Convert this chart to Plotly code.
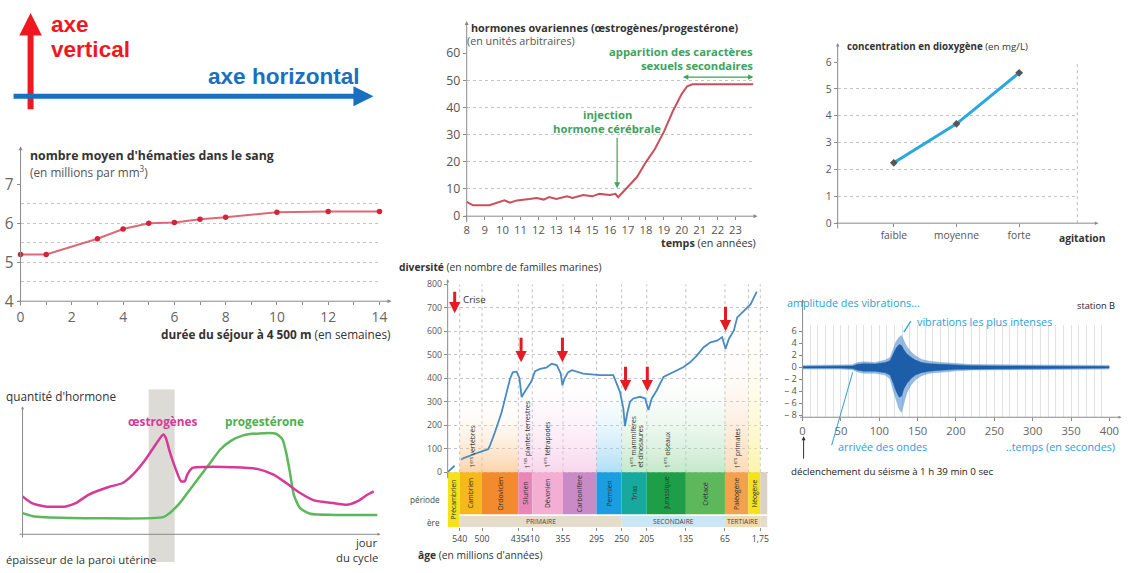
import plotly.graph_objects as go

W, H = 1128, 573
# the photographed page is slightly rescaled; positions below are given in the
# reference picture's pixels and mapped to figure pixels here.
SX, BX = 0.985, 5.5
SY, BY = 0.963, 11.9
FS = 1 / 0.975


def wx(x):
    return (x - BX) / SX


def wy(y):
    return (y - BY) / SY


def px(x):
    return wx(x) / W


def py(y):
    return 1 - wy(y) / H


def dom_x(a, b):
    return [max(0, px(a)), min(1, px(b))]


def dom_y(top, bottom):
    return [max(0, py(bottom)), min(1, py(top))]


def fs(s):
    return round(s * FS, 2)


FONT = "Open Sans"
DARK = "#333333"
GREY = "#8a8a8a"
GRID = "#c4c4c4"

# ---------------- data ----------------
# hématies
hem_weeks = [0, 1, 3, 4, 5, 6, 7, 8, 10, 12, 14]
hem_values = [5.2, 5.2, 5.6, 5.85, 6.0, 6.02, 6.1, 6.15, 6.28, 6.3, 6.3]
hem_yticks = [4, 5, 6, 7]

# hormones ovariennes
ova_years = [8.0, 8.35, 9.27, 9.64, 10.1, 10.4, 10.8, 11.5, 11.9, 12.3, 12.6, 13.0, 13.6,
             13.9, 14.5, 15.0, 15.4, 16.0, 16.3, 16.45, 17.0, 17.5, 18.0, 18.5, 19.0,
             19.5, 20.0, 20.3, 20.6, 21.0, 22.0, 23.0, 24.0]
ova_values = [5.3, 4.0, 4.0, 4.9, 5.8, 5.0, 5.8, 6.3, 6.7, 6.1, 7.0, 6.3, 7.3,
              6.7, 7.8, 7.3, 8.2, 7.8, 8.2, 7.0, 10.7, 14.4, 19.9, 24.7, 31.0,
              38.6, 45.0, 47.8, 48.5, 48.5, 48.5, 48.5, 48.5]
ova_xticks = list(range(8, 24))

# dioxygène
o2_levels = ["faible", "moyenne", "forte"]
o2_pos = [1, 2, 3]
o2_values = [2.25, 3.7, 5.6]

# diversité des familles marines
div_dash_ages = [561, 548, 535]
div_dash_values = [2, 30, 58]
div_ages = [535, 531, 510, 498, 489, 486, 477, 465, 456, 450, 445, 438, 433, 429, 424,
            412, 405, 396, 385, 375, 366, 359, 356, 352, 346, 339, 319, 289, 265, 253,
            247, 244, 240, 235, 229, 217, 208, 202, 196, 187, 175, 163, 151, 139, 127,
            115, 103, 91, 79, 70, 64, 58, 49, 43, 31, 19, 8]
div_values = [58, 62, 81, 91, 98, 112, 169, 254, 332, 396, 425, 428, 400, 320, 340,
              385, 430, 440, 445, 462, 455, 420, 370, 400, 425, 434, 420, 413, 413, 342,
              272, 196, 250, 300, 314, 321, 314, 265, 314, 349, 406, 420, 434, 448, 469,
              497, 532, 553, 560, 575, 525, 567, 603, 659, 687, 715, 768]
crisis_ages = [430, 356, 243, 204, 64]
crisis_tips = [468, 468, 345, 345, 600]
age_ticks = [540, 500, 435, 410, 355, 295, 250, 205, 135, 65, 1.75]
age_labels = ["540", "500", "435", "410", "355", "295", "250", "205", "135", "65", "1,75"]
div_yticks = [0, 100, 200, 300, 400, 500, 600, 700, 800]

period_names = ["Précambrien", "Cambrien", "Ordovicien", "Silurien", "Dévonien",
                "Carbonifère", "Permien", "Trias", "Jurassique", "Crétacé",
                "Paléogène", "Néogène", ""]
period_start = [561.5, 540, 500, 435, 410, 355, 295, 250, 205, 135, 65, 23, 1.75]
period_end = [540, 500, 435, 410, 355, 295, 250, 205, 135, 65, 23, 1.75, -11.2]
period_colors = ["#f3e21c", "#f6b81c", "#f28a2e", "#ea85b8", "#f3aed2", "#c98bc5",
                 "#1a9ee0", "#17a89e", "#1f9e48", "#5db85c", "#f3a14c", "#f4e21e", "#d9d1c3"]

era_names = ["PRIMAIRE", "SECONDAIRE", "TERTIAIRE", "Q"]
era_start = [540, 250, 65, 1.75]
era_end = [250, 65, 1.75, -11.2]
era_colors = ["#e6dccb", "#cbe6f4", "#eedcae", "#e6dccb"]

pastel_start = [540, 435, 295, 250, 65, 23]
pastel_end = [435, 295, 250, 65, 23, 1.75]
pastel_top = [330, 470, 420, 470, 620, 720]
pastel_colors = ["rgba(247,175,100,0.55)", "rgba(240,175,220,0.5)", "rgba(110,195,240,0.55)",
                 "rgba(140,210,150,0.5)", "rgba(246,190,130,0.55)", "rgba(250,236,120,0.6)"]

first_labels = ["1<sup>ers</sup> vertébrés", "1<sup>res</sup> plantes terrestres",
                "1<sup>ers</sup> tétrapodes", "1<sup>ers</sup> mammifères",
                "et dinosaures", "1<sup>ers</sup> oiseaux", "1<sup>ers</sup> primates"]
first_ages = [517, 418, 384, 230, 216, 168, 43]

# sismogramme (enveloppe)
seis_t = [0, 50, 65, 72, 80, 95, 108, 114, 118, 122, 126, 129, 132, 136, 141, 147, 155,
          165, 180, 200, 220, 260, 320, 400]
seis_upper = [0.3, 0.3, 0.4, 0.8, 0.9, 0.8, 1.2, 1.6, 3.0, 4.3, 5.0, 5.3, 4.4, 3.4, 2.6,
              1.9, 1.3, 1.0, 0.8, 0.6, 0.45, 0.4, 0.35, 0.3]
seis_lower = [-0.3, -0.3, -0.4, -0.8, -1.0, -1.0, -1.3, -1.9, -3.8, -5.5, -7.0, -7.5, -6.0,
              -4.2, -3.0, -2.1, -1.4, -1.0, -0.8, -0.6, -0.45, -0.4, -0.35, -0.3]
seis_core_upper = [0.12, 0.12, 0.2, 0.5, 0.6, 0.55, 0.8, 1.1, 2.2, 3.2, 3.8, 3.6, 2.9, 2.2,
                   1.7, 1.2, 0.8, 0.6, 0.5, 0.35, 0.25, 0.2, 0.18, 0.12]
seis_core_lower = [-0.12, -0.12, -0.2, -0.5, -0.65, -0.65, -0.9, -1.3, -2.6, -4.0, -5.0,
                   -4.8, -3.6, -2.7, -1.9, -1.3, -0.9, -0.65, -0.5, -0.35, -0.25, -0.2,
                   -0.18, -0.12]
seis_xticks = [0, 50, 100, 150, 200, 250, 300, 350, 400]
seis_yticks = [6, 4, 2, 0, -2, -4, -6, -8]
seis_ylabels = ["6", "4", "2", "0", "– 2", "– 4", "– 6", "– 8"]

# cycle menstruel
oe_days = [0, 0.74, 1.8, 3.4, 4.2, 5.2, 6.8, 7.9, 8.7, 9.7, 10.5, 11.1, 11.3, 11.6, 12.1,
           12.5, 12.8, 13.0, 13.4, 14.5, 16.6, 18.5, 19.8, 20.8, 21.9, 23.0, 24.6, 25.6,
           26.4, 27.2, 27.7]
oe_values = [30.3, 24.9, 22.3, 22.3, 24.9, 31.6, 37.8, 41.0, 47.7, 59.8, 71.8, 79.9, 77.2,
             66.5, 51.7, 42.4, 42.4, 47.7, 53.1, 53.9, 53.6, 52.3, 47.7, 41.0, 33.0, 27.1,
             24.9, 23.6, 26.3, 31.6, 34.3]
pg_days = [0, 0.74, 1.8, 11.1, 11.6, 12.4, 13.2, 14.0, 14.8, 15.6, 16.4, 17.4, 18.7, 20.0,
           20.5, 20.8, 21.1, 21.4, 21.9, 22.7, 24.6, 28.0]
pg_values = [16.9, 14.7, 13.7, 13.7, 16.9, 24.9, 35.7, 46.4, 57.1, 67.8, 74.5, 79.1, 80.7,
             80.4, 75.9, 65.1, 49.1, 31.6, 20.9, 16.4, 15.5, 15.5]
band_days = [9.95, 12.0]

# ---------------- helpers ----------------
ann = []
shapes = []


def text(x, y, s, size=11, color=DARK, xanchor="left", yanchor="middle", family=FONT,
         angle=0, xref="paper", yref="paper"):
    if xref == "paper":
        x = px(x)
    if yref == "paper":
        y = py(y)
    ann.append(dict(x=x, y=y, xref=xref, yref=yref, text=s, showarrow=False,
                    xanchor=xanchor, yanchor=yanchor, textangle=angle, borderpad=0,
                    font=dict(size=fs(size), color=color, family=family)))


def arrow(x0, y0, x1, y1, color=GREY, width=1.0, head=2, size=1.0):
    ann.append(dict(x=px(x1), y=py(y1), xref="paper", yref="paper",
                    ax=(x0 - x1) / SX, ay=(y0 - y1) / SY,
                    axref="pixel", ayref="pixel", showarrow=True, arrowhead=head,
                    arrowsize=size, arrowwidth=width, arrowcolor=color, text="",
                    standoff=0, startstandoff=0))


def line(x0, y0, x1, y1, color=GREY, width=1.0, dash="solid"):
    shapes.append(dict(type="line", xref="paper", yref="paper", x0=px(x0), y0=py(y0),
                       x1=px(x1), y1=py(y1), line=dict(color=color, width=width, dash=dash)))


def tf(size, color="#555"):
    return dict(family=FONT, size=fs(size), color=color)


def axis(dom, rng, anchor, **kw):
    d = dict(domain=dom, range=rng, anchor=anchor, showgrid=False, zeroline=False,
             showline=False, ticks="", fixedrange=True, tickangle=0, tickfont=tf(11))
    d.update(kw)
    return d


fig = go.Figure()

# ---------------- panel 0 : axes diagram ----------------
arrow(32, 108, 32, 14, color="#f01820", width=6, head=2, size=0.75)
arrow(18, 97, 374, 97, color="#1a6fc0", width=5, head=2, size=0.8)
text(51, 25, "<b>axe</b>", size=22, color="#f01820", family="Liberation Sans")
text(51, 50, "<b>vertical</b>", size=22, color="#f01820", family="Liberation Sans")
text(362, 77, "<b>axe horizontal</b>", size=22, color="#1a6fc0", xanchor="right",
     family="Liberation Sans")

# ---------------- panel 1 : hématies ----------------
fig.add_trace(go.Scatter(x=hem_weeks, y=hem_values, mode="lines+markers", xaxis="x", yaxis="y",
                         line=dict(color="#dc6a76", width=2),
                         marker=dict(size=5.5, color="#d0243a"), cliponaxis=False,
                         showlegend=False, hoverinfo="skip"))
arrow(22, 302, 22, 147, color=GREY, width=1, head=2, size=0.8)
arrow(22, 302, 392, 302, color=GREY, width=1, head=2, size=0.8)
text(30, 156, "<b>nombre moyen d'hématies dans le sang</b>", size=12, color=DARK)
text(30, 172, "(en millions par mm<sup>3</sup>)", size=11.5, color="#555")
text(392, 335, "<b>durée du séjour à 4 500 m</b> (en semaines)", size=11.5, color=DARK,
     xanchor="right")

# ---------------- panel 2 : hormones ovariennes ----------------
fig.add_trace(go.Scatter(x=ova_years, y=ova_values, mode="lines", xaxis="x2", yaxis="y2",
                         line=dict(color="#c8505c", width=2), cliponaxis=False,
                         showlegend=False, hoverinfo="skip"))
arrow(467, 217, 467, 22, color=GREY, width=1, head=2, size=0.8)
arrow(467, 217, 757, 217, color=GREY, width=1, head=2, size=0.8)
text(470, 28, "<b>hormones ovariennes (œstrogènes/progestérone)</b>", size=10.5)
text(466, 41, "(en unités arbitraires)", size=10.5, color="#555")
GREEN = "#3da35d"
text(754, 52, "<b>apparition des caractères</b>", size=11, color=GREEN, xanchor="right")
text(754, 66, "<b>sexuels secondaires</b>", size=11, color=GREEN, xanchor="right")
ann.append(dict(x=px(753), y=py(78), xref="paper", yref="paper", ax=(682 - 753) / SX, ay=0,
                axref="pixel", ayref="pixel", showarrow=True, arrowhead=2, arrowside="end+start",
                arrowsize=0.9, arrowwidth=1.2, arrowcolor=GREEN, text=""))
text(607, 115, "<b>injection</b>", size=11, color=GREEN, xanchor="center")
text(607, 129, "<b>hormone cérébrale</b>", size=11, color=GREEN, xanchor="center")
arrow(617, 139, 617, 189, color=GREEN, width=1.2, head=2, size=1)
text(757, 243, "<b>temps</b> (en années)", size=10.5, xanchor="right")

# ---------------- panel 3 : dioxygène ----------------
fig.add_trace(go.Scatter(x=o2_pos, y=o2_values, mode="lines+markers", xaxis="x3", yaxis="y3",
                         line=dict(color="#2aa7de", width=3),
                         marker=dict(size=6, color="#555", symbol="diamond"),
                         cliponaxis=False, showlegend=False, hoverinfo="skip"))
arrow(837, 224, 837, 44, color=GREY, width=1, head=2, size=0.7)
arrow(837, 224, 1097, 224, color=GREY, width=1, head=2, size=0.7)
line(1076, 224, 1076, 62, color="#bbbbbb", width=1, dash="dot")
text(845, 47, "<b>concentration en dioxygène</b> (en mg/L)", size=9.5)
text(1081, 239, "<b>agitation</b>", size=10, xanchor="center")

# ---------------- panel 4 : diversité ----------------
for a, b, top, col in zip(pastel_start, pastel_end, pastel_top, pastel_colors):
    fig.add_trace(go.Scatter(x=[a, a, b, b, a], y=[0, top, top, 0, 0], mode="lines",
                             line=dict(width=0), fill="toself",
                             fillgradient=dict(type="vertical",
                                               colorscale=[[0, col], [1, "rgba(255,255,255,0)"]]),
                             xaxis="x4", yaxis="y4", showlegend=False, hoverinfo="skip"))
for a in period_end[:-1]:
    shapes.append(dict(type="line", xref="x4", yref="y4", x0=a, x1=a, y0=0, y1=800,
                       line=dict(color="#c0c0c0", width=1, dash="dot"), layer="below"))
for i, (a, b, col) in enumerate(zip(period_start, period_end, period_colors)):
    y0 = -234 if i == 0 else -179
    shapes.append(dict(type="rect", xref="x4", yref="y4", x0=a, x1=b, y0=y0, y1=0,
                       fillcolor=col, line=dict(width=0)))
for a, b, col in zip(era_start, era_end, era_colors):
    shapes.append(dict(type="rect", xref="x4", yref="y4", x0=a, x1=b, y0=-234, y1=-186,
                       fillcolor=col, line=dict(width=0)))
for i, (name, a, b) in enumerate(zip(period_names, period_start, period_end)):
    if name:
        text((a + b) / 2, -117 if i == 0 else -90, name, size=6.5, color="#333",
             xanchor="center", angle=-90, xref="x4", yref="y4")
for i, (name, a, b) in enumerate(zip(era_names, era_start, era_end)):
    if name == "Q":
        text(-13, -210, name, size=8, color="#444", xanchor="left", xref="x4", yref="y4")
    else:
        text((a + b) / 2, -210, name, size=6.5, color="#444", xanchor="center",
             xref="x4", yref="y4")
for lab, a in zip(first_labels, first_ages):
    text(a, 14, lab, size=6.5, color="#333", xanchor="center", yanchor="bottom", angle=-90,
         xref="x4", yref="y4")
fig.add_trace(go.Scatter(x=div_dash_ages, y=div_dash_values, mode="lines", xaxis="x4",
                         yaxis="y4", line=dict(color="#4a8ac2", width=1.8, dash="dash"),
                         showlegend=False, hoverinfo="skip"))
fig.add_trace(go.Scatter(x=div_ages, y=div_values, mode="lines", xaxis="x4", yaxis="y4",
                         line=dict(color="#4a8ac2", width=1.8), showlegend=False,
                         hoverinfo="skip"))
for a, tip in zip(crisis_ages, crisis_tips):
    ann.append(dict(x=a, y=tip, xref="x4", yref="y4", ax=0, ay=-25 / SY, axref="pixel",
                    ayref="pixel", showarrow=True, arrowhead=2, arrowsize=0.75, arrowwidth=3,
                    arrowcolor="#e31b23", text="", standoff=0))
arrow(455, 292, 455, 314, color="#e31b23", width=3, head=2, size=0.75)
text(462, 300, "Crise", size=9.5, color="#333")
arrow(448, 473, 448, 280, color=GREY, width=1, head=2, size=0.6)
text(398, 268, "<b>diversité</b> (en nombre de familles marines)", size=10)
text(441, 500, "période", size=8, color="#444", xanchor="right")
text(441, 523, "ère", size=8, color="#444", xanchor="right")
text(417, 556, "<b>âge</b> (en millions d'années)", size=10)

# ---------------- panel 5 : sismogramme ----------------
BLUE_T = "#2aa0d8"
fig.add_trace(go.Scatter(x=seis_t + seis_t[::-1], y=seis_upper + seis_lower[::-1],
                         mode="lines", line=dict(width=0.5, color="#6fa8dc"), fill="toself",
                         fillcolor="rgba(70,130,200,0.55)", xaxis="x5", yaxis="y5",
                         showlegend=False, hoverinfo="skip"))
fig.add_trace(go.Scatter(x=seis_t + seis_t[::-1], y=seis_core_upper + seis_core_lower[::-1],
                         mode="lines", line=dict(width=0.5, color="#1d5ea8"), fill="toself",
                         fillcolor="#1d5ea8", xaxis="x5", yaxis="y5",
                         showlegend=False, hoverinfo="skip"))
arrow(802, 418, 802, 300, color=GREY, width=1, head=2, size=0.6)
arrow(802, 418, 1120, 418, color=GREY, width=1, head=2, size=0.6)
text(785, 303, "amplitude des vibrations...", size=10.5, color=BLUE_T)
text(1115, 306, "station B", size=9, color="#222", xanchor="right")
text(915, 322, "vibrations les plus intenses", size=10.5, color=BLUE_T)
line(910, 322, 903, 333, color=BLUE_T, width=1.3)
line(831, 446, 852, 373, color=BLUE_T, width=1)
text(836, 447, "arrivée des ondes", size=10.5, color=BLUE_T)
text(1115, 447, "..temps (en secondes)", size=10.5, color=BLUE_T, xanchor="right")
arrow(803, 460, 803, 437, color="#333", width=1, head=2, size=0.8)
text(789, 472, "déclenchement du séisme à 1 h 39 min 0 sec", size=9.5, color="#222")

# ---------------- panel 6 : cycle ----------------
shapes.append(dict(type="rect", xref="x6", yref="y6", x0=band_days[0], x1=band_days[1],
                   y0=-22.4, y1=116, fillcolor="#dddbd5", line=dict(width=0), layer="below"))
fig.add_trace(go.Scatter(x=pg_days, y=pg_values, mode="lines", xaxis="x6", yaxis="y6",
                         line=dict(color="#5cb85a", width=2.5, shape="spline", smoothing=0.6),
                         showlegend=False, hoverinfo="skip"))
fig.add_trace(go.Scatter(x=oe_days, y=oe_values, mode="lines", xaxis="x6", yaxis="y6",
                         line=dict(color="#d63a96", width=2.5, shape="spline", smoothing=0.6),
                         showlegend=False, hoverinfo="skip"))
arrow(24, 535, 24, 407, color=GREY, width=1, head=2, size=0.6)
arrow(24, 535, 381, 535, color=GREY, width=1, head=2, size=0.6)
text(6, 397, "quantité d'hormone", size=11.5, color="#333")
text(128, 422, "<b>œstrogènes</b>", size=11.5, color="#d63a96")
text(225, 422, "<b>progestérone</b>", size=11.5, color="#4caf50")
text(380, 543, "jour", size=11, color="#333", xanchor="right")
text(380, 558, "du cycle", size=11, color="#333", xanchor="right")
text(6, 560, "épaisseur de la paroi utérine", size=11, color="#333")

# ---------------- layout ----------------
gridk = dict(showgrid=True, gridcolor=GRID, griddash="dot", gridwidth=1)
fig.update_layout(
    width=W, height=H, margin=dict(l=0, r=0, t=0, b=0), autosize=False,
    paper_bgcolor="white", plot_bgcolor="rgba(0,0,0,0)", showlegend=False,
    font=dict(family=FONT, color=DARK),
    xaxis=axis(dom_x(22, 380), [0, 14], "y", dtick=2, ticks="outside", ticklen=3,
               tickcolor=GREY, minor=dict(dtick=1, ticks="outside", ticklen=3, tickcolor=GREY),
               tickfont=tf(13.5, "#666")),
    yaxis=axis(dom_y(185, 302), [4, 7], "x", tickvals=hem_yticks, ticks="outside", ticklen=3,
               tickcolor=GREY, tickfont=tf(15, "#666"),
               minor=dict(dtick=0.5, showgrid=True, gridcolor=GRID, griddash="dot"), **gridk),
    xaxis2=axis(dom_x(467, 753), [8, 24], "y2", tickvals=ova_xticks, ticks="outside",
                ticklen=3, tickcolor=GREY, tickfont=tf(11)),
    yaxis2=axis(dom_y(54, 217), [0, 60], "x2", dtick=10, ticks="outside", ticklen=3,
                tickcolor=GREY, tickfont=tf(12), **gridk),
    xaxis3=axis(dom_x(837, 1076), [0.104, 3.928], "y3", tickvals=o2_pos, ticktext=o2_levels,
                ticks="outside", ticklen=3, tickcolor=GREY, tickfont=tf(10)),
    yaxis3=axis(dom_y(63, 224), [0, 6], "x3", dtick=1, ticks="outside", ticklen=3,
                tickcolor=GREY, tickfont=tf(10), **gridk),
    xaxis4=axis(dom_x(448, 767), [561.5, -11.2], "y4", tickvals=age_ticks, ticktext=age_labels,
                ticks="outside", ticklen=3, tickcolor=GREY, tickfont=tf(8.5, "#444")),
    yaxis4=axis(dom_y(285, 528), [-234, 800], "x4", tickvals=div_yticks, ticks="outside",
                ticklen=3, tickcolor=GREY, tickfont=tf(8.5), **gridk),
    xaxis5=axis(dom_x(802, 1108), [0, 400], "y5", tickvals=seis_xticks, showgrid=True,
                gridcolor="#e2e2e2", minor=dict(dtick=10, showgrid=True, gridcolor="#e2e2e2"),
                ticks="outside", ticklen=3, tickcolor=GREY, tickfont=tf(11, "#666")),
    yaxis5=axis(dom_y(326, 418), [-8.33, 7.0], "x5", tickvals=seis_yticks, ticktext=seis_ylabels,
                ticks="outside", ticklen=3, tickcolor=GREY, tickfont=tf(9)),
    xaxis6=axis(dom_x(24, 378), [0, 28], "y6", showticklabels=False),
    yaxis6=axis(dom_y(390, 563), [-22.4, 116], "x6", showticklabels=False),
    annotations=ann, shapes=shapes,
)

fig.write_html("out.html", config={"displayModeBar": False, "staticPlot": True},
               post_script="document.body.style.margin='0px';")
